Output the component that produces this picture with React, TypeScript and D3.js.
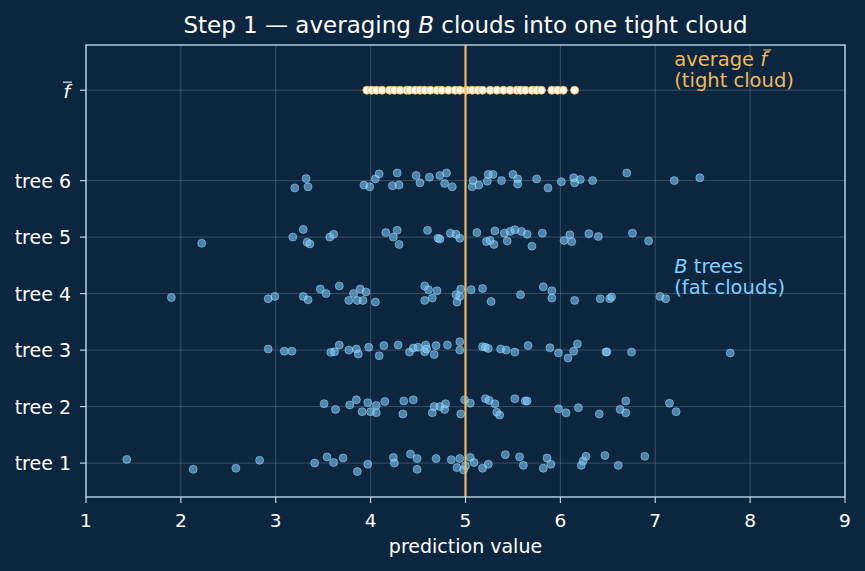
import * as d3 from "d3";

// [prediction, vertical jitter] for each tree's cloud
const tree1: [number, number][] = [
  [1.43, 0.065], [2.13, -0.11], [2.58, -0.09], [2.83, 0.05], [3.41, 0], [3.54, 0.11],
  [3.61, 0.01], [3.71, 0.09], [3.86, -0.15], [3.97, -0.02], [4.24, 0.1], [4.25, 0],
  [4.42, 0.16], [4.49, 0.08], [4.49, -0.11], [4.69, 0.08], [4.85, 0.06], [4.94, 0.08],
  [4.91, -0.08], [4.98, -0.12], [5.0, -0.05], [5.05, 0.1], [5.09, 0.01], [5.18, -0.09],
  [5.24, -0.02], [5.42, 0.15], [5.57, 0.11], [5.61, -0.04], [5.82, -0.09], [5.86, 0.09],
  [5.9, -0.02], [6.22, -0.04], [6.24, 0.04], [6.27, 0.12], [6.47, 0.135], [6.61, -0.04],
  [6.89, 0.12],
];
const tree2: [number, number][] = [
  [3.51, 0.05], [3.63, -0.05], [3.78, 0.03], [3.85, 0.12], [3.91, -0.09], [3.97, 0.07],
  [4.0, -0.09], [4.06, 0.02], [4.06, -0.11], [4.15, 0.09], [4.34, -0.13], [4.35, 0.1],
  [4.45, 0.12], [4.65, -0.11], [4.67, 0], [4.73, 0], [4.78, -0.05], [4.79, 0.05],
  [4.95, -0.13], [4.99, 0.12], [5.05, 0.06], [5.21, 0.14], [5.25, 0.11], [5.31, 0.05],
  [5.33, -0.1], [5.36, -0.15], [5.52, 0.14], [5.63, 0.1], [5.65, 0.1], [5.98, -0.04],
  [6.06, -0.11], [6.19, -0.02], [6.41, -0.13], [6.63, -0.05], [6.69, 0.1], [6.69, -0.11],
  [7.15, 0.06], [7.22, -0.09],
];
const tree3: [number, number][] = [
  [2.92, 0.02], [3.09, -0.02], [3.17, -0.02], [3.58, -0.04], [3.62, -0.03], [3.67, 0.09],
  [3.77, 0], [3.85, 0.02], [3.87, -0.07], [3.98, 0.05], [4.09, -0.1], [4.14, 0.08],
  [4.29, 0.09], [4.41, -0.035], [4.45, 0.035], [4.5, 0.05], [4.58, 0.09], [4.57, -0.03],
  [4.59, 0.02], [4.67, -0.08], [4.69, 0.08], [4.81, 0.09], [4.94, 0.15], [4.94, 0],
  [5.18, 0.06], [5.21, 0.05], [5.24, 0.03], [5.37, 0.02], [5.43, 0], [5.52, -0.035],
  [5.66, 0.08], [5.89, 0.04], [5.98, -0.05], [6.08, -0.14], [6.14, -0.02], [6.18, 0.11],
  [6.48, -0.035], [6.49, -0.03], [6.75, -0.035], [7.79, -0.05],
];
const tree4: [number, number][] = [
  [1.9, -0.07], [2.92, -0.09], [2.99, -0.05], [3.29, -0.05], [3.34, -0.11], [3.47, 0.08],
  [3.53, 0], [3.67, 0.135], [3.77, -0.12], [3.82, 0], [3.89, 0.08], [3.86, -0.12],
  [3.92, -0.12], [3.95, 0.03], [4.05, -0.15], [4.57, 0.135], [4.61, 0.07], [4.7, 0.05],
  [4.57, -0.12], [4.65, -0.08], [4.9, -0.02], [4.91, -0.15], [4.95, 0.08], [4.94, -0.05],
  [5.06, 0.07], [5.18, 0.09], [5.27, -0.14], [5.58, -0.02], [5.82, 0.12], [5.91, 0.05],
  [5.91, -0.08], [6.15, -0.12], [6.42, -0.09], [6.52, -0.09], [6.54, -0.06], [7.05, -0.05],
  [7.11, -0.09],
];
const tree5: [number, number][] = [
  [2.22, -0.11], [3.18, 0], [3.29, 0.135], [3.33, -0.09], [3.36, -0.12], [3.57, 0],
  [3.61, 0.05], [4.16, 0.08], [4.24, 0], [4.28, 0.12], [4.3, -0.13], [4.6, 0.12],
  [4.71, -0.02], [4.73, -0.035], [4.84, 0.07], [4.9, 0.05], [4.94, -0.02], [5.12, 0.08],
  [5.22, -0.08], [5.26, -0.06], [5.31, 0.11], [5.3, -0.13], [5.41, 0.07], [5.44, -0.07],
  [5.47, 0.1], [5.52, 0.13], [5.59, 0.1], [5.65, 0.05], [5.7, -0.16], [5.81, 0.07],
  [6.04, -0.06], [6.1, 0.04], [6.12, -0.08], [6.3, 0.06], [6.4, 0.01], [6.76, 0.07],
  [6.93, -0.07],
];
const tree6: [number, number][] = [
  [3.2, -0.13], [3.32, 0.035], [3.34, -0.11], [3.93, -0.08], [3.99, -0.11], [4.05, 0.03],
  [4.09, 0.12], [4.23, -0.09], [4.28, 0.135], [4.3, -0.08], [4.48, 0.09], [4.52, -0.04],
  [4.62, 0.06], [4.73, 0.09], [4.8, 0.135], [4.78, -0.05], [4.86, -0.11], [5.08, 0],
  [5.07, -0.11], [5.14, -0.08], [5.23, -0.01], [5.24, 0.11], [5.29, 0.11], [5.38, 0],
  [5.5, 0.11], [5.55, 0.03], [5.55, -0.06], [5.75, 0.03], [5.87, -0.13], [6.01, -0.02],
  [6.14, 0.05], [6.15, -0.04], [6.21, 0.02], [6.34, 0], [6.7, 0.135], [7.2, 0],
  [7.47, 0.05],
];
const trees = [tree1, tree2, tree3, tree4, tree5, tree6];
const treeLabels = ["tree 1", "tree 2", "tree 3", "tree 4", "tree 5", "tree 6"];

// per-sample average over the trees
const averageCloud = [
  3.96, 4.01, 4.06, 4.12, 4.2, 4.25, 4.31, 4.38, 4.41, 4.47, 4.52, 4.57, 4.63, 4.7,
  4.75, 4.82, 4.89, 4.94, 5.01, 5.07, 5.13, 5.18, 5.26, 5.33, 5.4, 5.47, 5.54, 5.58,
  5.63, 5.7, 5.75, 5.8, 5.91, 5.97, 6.03, 6.15,
];
const averageRow = 7.6;
const truth = 5;
const xTicks = [1, 2, 3, 4, 5, 6, 7, 8, 9];

const W = 865;
const H = 571;
const margin = { top: 45, right: 20, bottom: 74, left: 86 };

const BG = "#0c2640";
const SPINE = "#c9e0f2";
const BLUE = "#7fd0ff";
const GOLD = "#f2b85a";
const FONT = "DejaVu Sans, sans-serif";

export default function App() {
  const x = d3.scaleLinear().domain([1, 9]).range([margin.left, W - margin.right]);
  const y = d3.scaleLinear().domain([0.4, 8.4]).range([H - margin.bottom, margin.top]);
  const [x0, x1] = x.range();
  const [y0, y1] = y.range();
  const yTicks = [1, 2, 3, 4, 5, 6, averageRow];
  const ax = x(7.2);

  return (
    <svg width={W} height={H} style={{ display: "block", position: "absolute", left: 0, top: 0 }}
      fontFamily={FONT}>
      <rect width={W} height={H} fill={BG} />

      {/* grid */}
      {xTicks.map((t) => (
        <line key={"gx" + t} x1={x(t)} x2={x(t)} y1={y1} y2={y0}
          stroke="#ffffff" strokeOpacity={0.24} strokeWidth={0.8} />
      ))}
      {yTicks.map((t) => (
        <line key={"gy" + t} x1={x0} x2={x1} y1={y(t)} y2={y(t)}
          stroke="#ffffff" strokeOpacity={0.24} strokeWidth={0.8} />
      ))}

      {/* tree clouds */}
      {trees.map((pts, i) =>
        pts.map(([v, j], k) => (
          <circle key={`t${i}-${k}`} cx={x(v)} cy={y(i + 1 + j)} r={4}
            fill={BLUE} fillOpacity={0.55} stroke="#a9e1ff" strokeOpacity={0.55} strokeWidth={0.9} />
        ))
      )}

      {/* averaged cloud */}
      {averageCloud.map((v, k) => (
        <circle key={"a" + k} cx={x(v)} cy={y(averageRow)} r={4}
          fill="#fff8ea" stroke={GOLD} strokeWidth={0.9} />
      ))}

      <line x1={x(truth)} x2={x(truth)} y1={y1} y2={y0} stroke={GOLD} strokeWidth={2.2} />

      {/* spines */}
      <rect x={x0} y={y1} width={x1 - x0} height={y0 - y1} fill="none" stroke={SPINE} strokeWidth={1.3} />

      {/* x axis */}
      {xTicks.map((t) => (
        <g key={"xt" + t}>
          <line x1={x(t)} x2={x(t)} y1={y0} y2={y0 + 6} stroke={SPINE} strokeWidth={1.1} />
          <text x={x(t)} y={y0 + 30} textAnchor="middle" fontSize={18.5} fill="#ffffff">{t}</text>
        </g>
      ))}
      <text x={(x0 + x1) / 2} y={y0 + 56} textAnchor="middle" fontSize={19} fill="#ffffff">
        prediction value
      </text>

      {/* y axis */}
      {treeLabels.map((lab, i) => (
        <g key={lab}>
          <line x1={x0 - 6} x2={x0} y1={y(i + 1)} y2={y(i + 1)} stroke={SPINE} strokeWidth={1.1} />
          <text x={x0 - 15} y={y(i + 1) + 7} textAnchor="end" fontSize={19} fill="#ffffff">{lab}</text>
        </g>
      ))}
      <line x1={x0 - 6} x2={x0} y1={y(averageRow)} y2={y(averageRow)} stroke={SPINE} strokeWidth={1.1} />
      <text x={x0 - 16} y={y(averageRow) + 8} textAnchor="end" fontSize={18.5} fill="#ffffff"
        fontStyle="italic">f</text>
      <line x1={x0 - 23} x2={x0 - 14} y1={y(averageRow) - 8} y2={y(averageRow) - 8}
        stroke="#ffffff" strokeWidth={1.1} />

      {/* annotations */}
      <text x={ax} y={66} fontSize={19.5} fill={GOLD}>
        average <tspan fontStyle="italic">f</tspan>
      </text>
      <line x1={ax + 89} x2={ax + 97} y1={50} y2={50} stroke={GOLD} strokeWidth={1.1} />
      <text x={ax} y={87} fontSize={19.5} fill={GOLD}>(tight cloud)</text>
      <text x={ax} y={273} fontSize={19.5} fill={BLUE}>
        <tspan fontStyle="italic">B</tspan> trees
      </text>
      <text x={ax} y={294} fontSize={19.5} fill={BLUE}>(fat clouds)</text>

      <text x={(x0 + x1) / 2} y={33} textAnchor="middle" fontSize={23} fill="#ffffff">
        Step 1 — averaging <tspan fontStyle="italic">B</tspan> clouds into one tight cloud
      </text>
    </svg>
  );
}
